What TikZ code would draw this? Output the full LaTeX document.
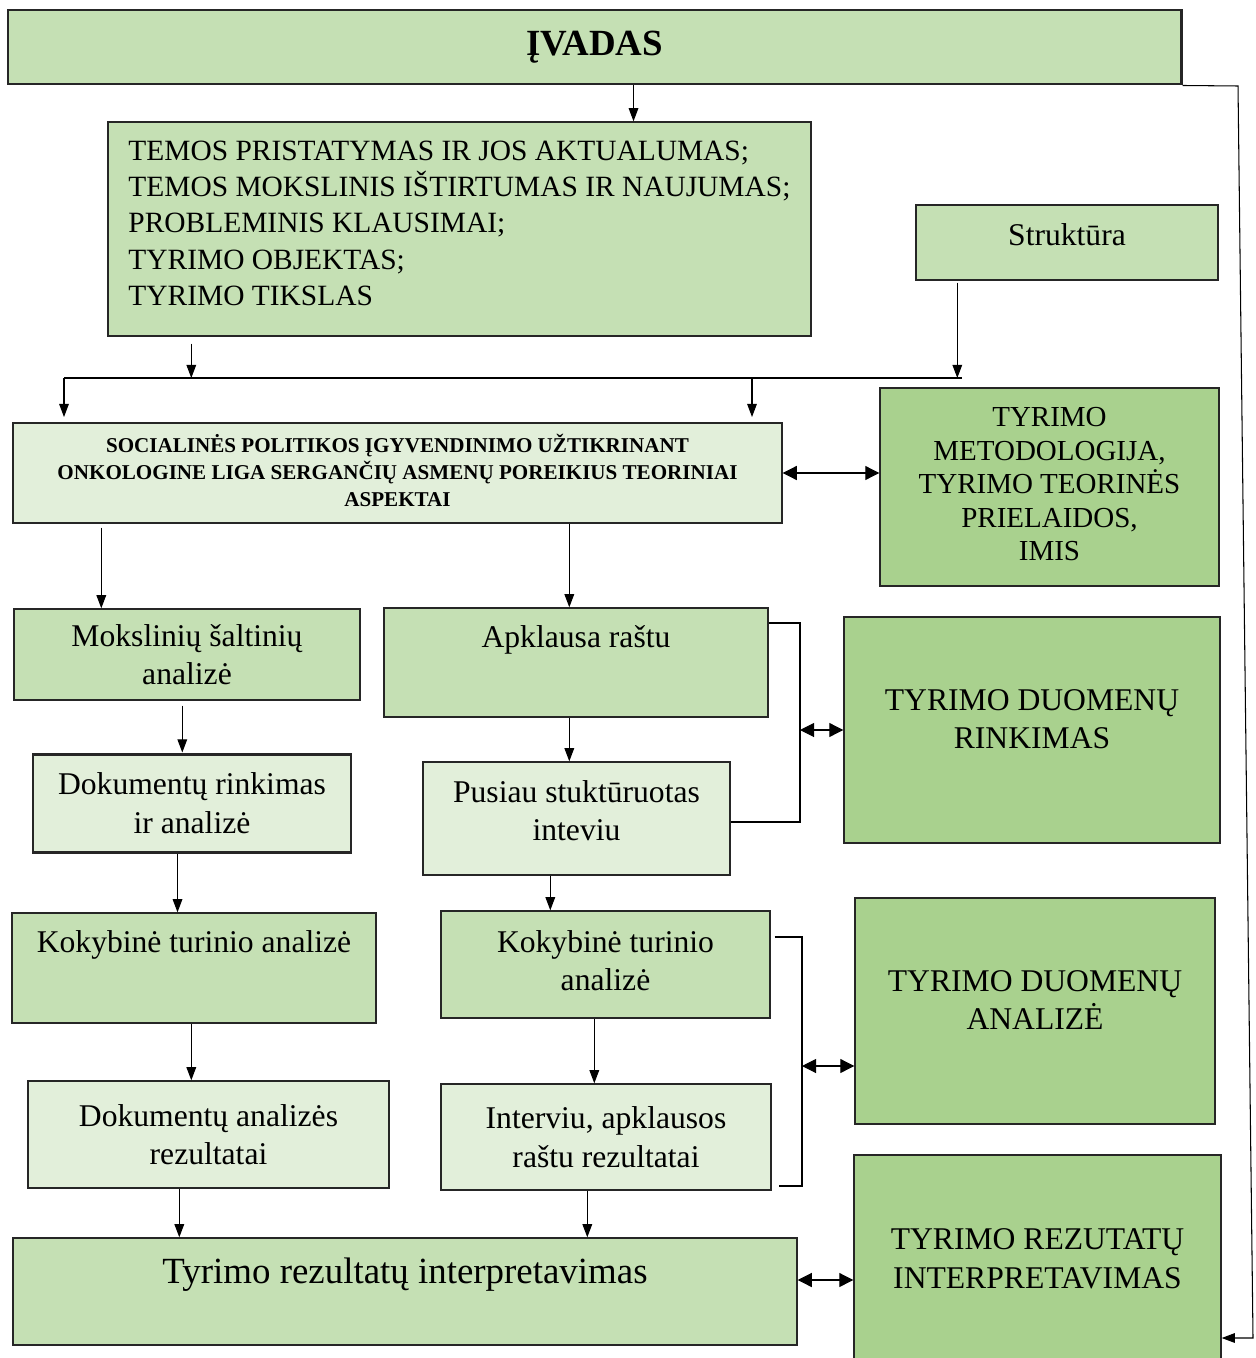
\documentclass[tikz,border=0pt]{standalone}
\usepackage{fontspec}
\setmainfont{Liberation Serif}
\usepackage{xcolor}
\usepackage{tikz}
\usetikzlibrary{arrows.meta,positioning}

\definecolor{gmid}{HTML}{C5E0B4}
\definecolor{glight}{HTML}{E2EFDA}
\definecolor{gdark}{HTML}{A9D18E}
\newlength\pxu
\setlength\pxu{0.02cm}

\tikzset{
  box/.style={draw=black!85, line width=0.8pt, inner sep=0pt, align=center,
    font=\fontsize{18}{22}\selectfont},
  sz/.style 2 args={minimum width=#1\pxu, minimum height=#2\pxu},
  up/.style={text depth=#1\pxu},
  thickbox/.style={line width=1.7pt},
  lbl/.style={anchor=north, inner sep=0pt, font=\fontsize{18}{22}\selectfont},
  line/.style={draw=black, line width=0.6pt},
  arr/.style={line, -{Triangle[length=7.5pt,width=5.5pt]}},
  darr/.style={line, {Triangle[length=8pt,width=8pt]}-{Triangle[length=8pt,width=8pt]}}
}

\begin{document}
\begin{tikzpicture}[x=0.02cm, y=-0.02cm]
\clip (0,0) rectangle (1256,1358);

\node[box, thickbox, fill=gmid, sz={1173}{74}, font=\fontsize{21}{25}\selectfont\bfseries] (ivadas) at (594.5,47) {ĮVADAS};
\node[box, fill=gmid, sz={703}{214}, align=left, up=12, font=\fontsize{16.75}{20.7}\selectfont] (temos) at (459.5,229)
  {TEMOS PRISTATYMAS IR JOS AKTUALUMAS;\\TEMOS MOKSLINIS IŠTIRTUMAS IR NAUJUMAS;\\PROBLEMINIS KLAUSIMAI;\\TYRIMO OBJEKTAS;\\TYRIMO TIKSLAS};
\node[box, fill=gmid, sz={302}{75}, up=16] (struktura) at (1067,242.5) {Struktūra};

\node[box, fill=glight, sz={769}{100}, up=6, font=\fontsize{12}{15.3}\selectfont\bfseries] (socialines) at (397.5,473)
  {SOCIALINĖS POLITIKOS ĮGYVENDINIMO UŽTIKRINANT\\ONKOLOGINE LIGA SERGANČIŲ ASMENŲ POREIKIUS TEORINIAI\\ASPEKTAI};
\node[box, fill=gdark, sz={339}{198}, up=6, font=\fontsize{16.5}{19.1}\selectfont] (metod) at (1049.5,487)
  {TYRIMO\\METODOLOGIJA,\\TYRIMO TEORINĖS\\PRIELAIDOS,\\IMIS};

\node[box, fill=gmid, sz={346}{91}] (moksl) at (187,654.5) {Mokslinių šaltinių\\analizė};
\node[box, fill=gmid, sz={384}{109}, label={[lbl, yshift=-18\pxu]north:Apklausa raštu}] (apkl) at (576,662.5) {};
\node[box, fill=gdark, sz={376}{226}, up=22] (rinkimas) at (1032,730) {TYRIMO DUOMENŲ\\RINKIMAS};

\node[box, thickbox, fill=glight, sz={318}{98}] (dokum) at (192,803) {Dokumentų rinkimas\\ir analizė};
\node[box, fill=glight, sz={307}{113}, up=16] (pusiau) at (576.5,818.5) {Pusiau stuktūruotas\\inteviu};

\node[box, fill=gmid, sz={364}{110}, label={[lbl, yshift=-18\pxu]north:Kokybinė turinio analizė}] (kok1) at (194,968) {};
\node[box, fill=gmid, sz={329}{107}, up=8] (kok2) at (605.5,964.5) {Kokybinė turinio\\analizė};
\node[box, fill=gdark, sz={360}{226}, up=22] (analize) at (1035,1011) {TYRIMO DUOMENŲ\\ANALIZĖ};

\node[box, fill=glight, sz={361}{107}] (dokrez) at (208.5,1134.5) {Dokumentų analizės\\rezultatai};
\node[box, fill=glight, sz={330}{106}] (intrez) at (606,1137) {Interviu, apklausos\\raštu rezultatai};

\node[box, fill=gmid, sz={784}{107}, label={[lbl, yshift=-20\pxu, font=\fontsize{21}{25}\selectfont]north:Tyrimo rezultatų interpretavimas}] (interp) at (405,1291.5) {};
\node[box, fill=gdark, sz={367}{207}] (rezint) at (1037.5,1258.5) {TYRIMO REZUTATŲ\\INTERPRETAVIMAS};

\coordinate (bl) at (64,378);
\coordinate (bm) at (752,378);
\coordinate (br) at (962,378);
\path (ivadas.south west) ++(627,0) coordinate (a0);
\path (temos.south west) ++(84,7) coordinate (t1);
\path (struktura.south west) ++(42,2) coordinate (s1);
\path (socialines.south west) ++(89,4) coordinate (a1);
\path (socialines.south west) ++(557,0) coordinate (a2);
\path (moksl.south west) ++(169,5) coordinate (a3);
\path (dokum.south west) ++(146,0) coordinate (a4);
\path (pusiau.south west) ++(128,0) coordinate (a5);
\path (kok1.south west) ++(180,0) coordinate (a6);
\path (kok2.south west) ++(154,0) coordinate (a7);
\path (dokrez.south west) ++(152,0) coordinate (a8);
\path (intrez.south west) ++(147,0) coordinate (a9);
\coordinate (k1) at (800,623);
\coordinate (k2) at (800,822);
\coordinate (k3) at (802,937);
\coordinate (k4) at (802,1186);
\coordinate (k5) at (802,1066);
\coordinate (k6) at (797,1280);
\coordinate (r1) at (1238,86);
\coordinate (r2) at (1253,1338);

\draw[arr] (a0) -- (a0 |- temos.north);
\draw[arr] (t1) -- (t1 |- bl);
\draw[arr] (s1) -- (s1 |- br);
\draw[line] (bl) -- (br);
\draw[arr, shorten >=3pt] (bl) -- (bl |- socialines.north);
\draw[arr, shorten >=3pt] (bm) -- (bm |- socialines.north);
\draw[darr] (socialines.east) -- (socialines.east -| metod.west);

\draw[arr] (a1) -- (a1 |- moksl.north);
\draw[arr] (a2) -- (a2 |- apkl.north);
\draw[arr] (a3) -- (a3 |- dokum.north);
\draw[arr] (a2 |- apkl.south) -- (a2 |- pusiau.north);
\draw[line] (apkl.east |- k1) -- (k1) -- (k2) -- (pusiau.east |- k2);
\draw[darr] (k1 |- rinkimas.west) -- (rinkimas.west);

\draw[arr] (a4) -- (a4 |- kok1.north);
\draw[arr] (a5) -- (a5 |- kok2.north);
\draw[arr] (a6) -- (a6 |- dokrez.north);
\draw[arr] (a7) -- (a7 |- intrez.north);
\draw[line] ([xshift=4\pxu]kok2.east |- k3) -- (k3) -- (k4) -- ([xshift=7\pxu]intrez.east |- k4);
\draw[darr] (k5) -- (k5 -| analize.west);

\draw[arr] (a8) -- (a8 |- interp.north);
\draw[arr] (a9) -- (a9 |- interp.north);
\draw[darr] (interp.east |- k6) -- (k6 -| rezint.west);

\draw[arr] (ivadas.south east) -- (r1) -- (r2) -- (r2 -| rezint.east);
\end{tikzpicture}
\end{document}
